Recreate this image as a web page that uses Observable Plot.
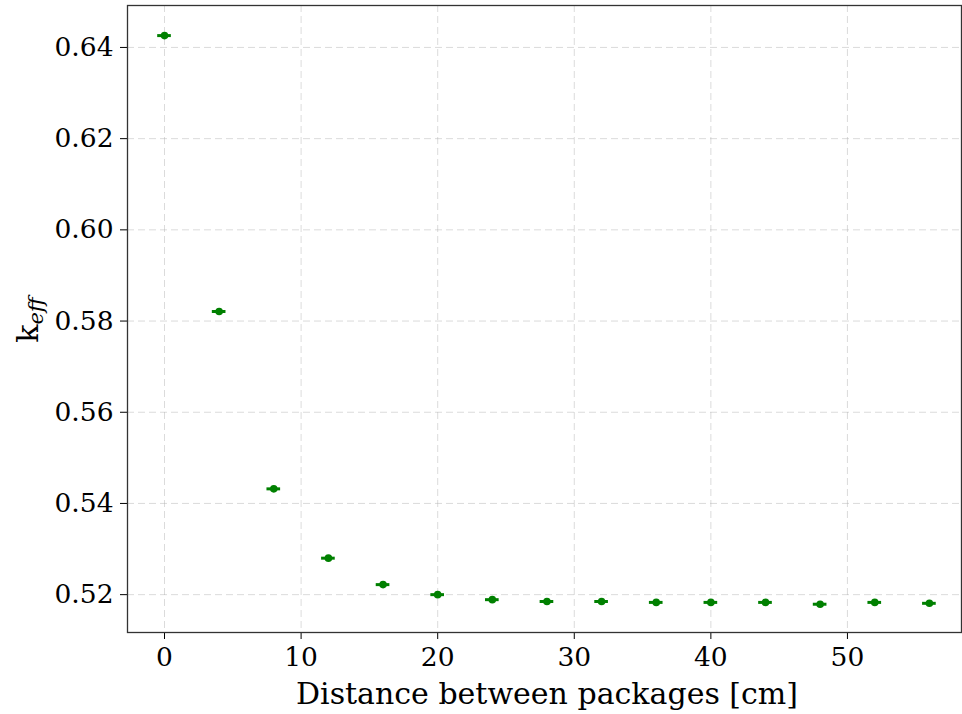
<!DOCTYPE html>
<html><head><meta charset="utf-8">
<script src="https://cdn.jsdelivr.net/npm/d3@7"></script>
<script src="https://cdn.jsdelivr.net/npm/@observablehq/plot@0.6"></script>
<style>
body{margin:0;background:#fff;}
#chart{position:relative;width:962px;height:714px;}
svg{font-family:"DejaVu Serif",serif;}
</style></head>
<body><div id="chart"></div>
<script>
const distance = [0, 4, 8, 12, 16, 20, 24, 28, 32, 36, 40, 44, 48, 52, 56];
const keff = [0.6426, 0.5821, 0.5432, 0.5280, 0.5222, 0.5200, 0.5189, 0.5185, 0.5185, 0.5183, 0.5183, 0.5183, 0.5179, 0.5183, 0.5181];
const xerr = 0.5;
const xTicks = [0, 10, 20, 30, 40, 50];
const yTicks = [0.52, 0.54, 0.56, 0.58, 0.60, 0.62, 0.64];

const data = distance.map((d, i) => ({x: d, y: keff[i]}));

const plot = Plot.plot({
  width: 962, height: 714,
  marginLeft: 127, marginRight: 1, marginTop: 5, marginBottom: 82,
  style: {fontFamily: "DejaVu Serif, serif", fontSize: "26px", color: "#000", background: "#fff"},
  x: {domain: [-2.71, 58.35], ticks: xTicks, label: null},
  y: {domain: [0.5117, 0.6492], ticks: yTicks, label: null, tickFormat: d3.format(".2f")},
  marks: [
    Plot.gridX(xTicks, {stroke: "#b0b0b0", strokeOpacity: 0.45, strokeDasharray: "7,4", strokeWidth: 1}),
    Plot.gridY(yTicks, {stroke: "#b0b0b0", strokeOpacity: 0.45, strokeDasharray: "7,4", strokeWidth: 1}),
    Plot.axisX({ticks: xTicks, tickSize: 7, tickPadding: 8, fontSize: 26.5, label: null}),
    Plot.axisY({ticks: yTicks, tickSize: 7, tickPadding: 7, fontSize: 26.5, label: null, tickFormat: d3.format(".2f")}),
    Plot.ruleY(data, {y: "y", x1: d => d.x - xerr, x2: d => d.x + xerr, stroke: "green", strokeWidth: 3}),
    Plot.dot(data, {x: "x", y: "y", r: 3.8, fill: "green", stroke: "none"}),
    Plot.frame({stroke: "#333", strokeWidth: 1.3})
  ]
});
document.getElementById("chart").appendChild(plot);

const svg = d3.select(plot);
svg.append("text")
  .attr("x", 547).attr("y", 704)
  .attr("text-anchor", "middle")
  .attr("font-size", 30)
  .attr("font-family", "DejaVu Serif, serif")
  .attr("fill", "#000")
  .text("Distance between packages [cm]");
const yl = svg.append("text")
  .attr("transform", "translate(38,320) rotate(-90)")
  .attr("text-anchor", "middle")
  .attr("font-size", 30)
  .attr("font-family", "DejaVu Serif, serif")
  .attr("fill", "#000");
yl.append("tspan").text("k");
yl.append("tspan").attr("baseline-shift", "-25%").attr("font-size", 21).attr("font-style", "italic").text("eff");
</script></body></html>
